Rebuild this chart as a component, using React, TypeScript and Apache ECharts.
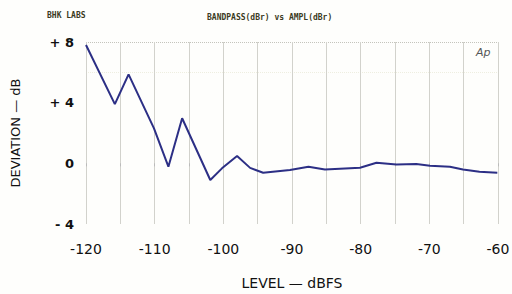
import React, { useEffect, useRef } from "react";
import * as echarts from "echarts";

const levels = [-120, -115.8, -113.8, -110.1, -108.0, -106.0, -101.9, -100.2, -98.0, -96.1, -94.2, -90.3, -87.6, -85.2, -80.1, -77.7, -74.8, -71.9, -69.9, -67.0, -65.1, -62.7, -60.1];
const deviation = [7.8, 3.9, 5.87, 2.3, -0.22, 2.97, -1.1, -0.33, 0.48, -0.3, -0.62, -0.44, -0.22, -0.4, -0.29, 0.04, -0.07, -0.05, -0.16, -0.22, -0.4, -0.55, -0.62];
const yTickLabels: Record<string, string> = { "8": "+ 8", "4": "+ 4", "0": "0", "-4": "- 4" };
const xTickLabels: Record<string, string> = { "-120": "-120", "-110": "-110", "-100": "-100", "-90": "-90", "-80": "-80", "-70": "-70", "-60": "-60" };

export default function App() {
  const ref = useRef<HTMLDivElement>(null);
  useEffect(() => {
    if (!ref.current) return;
    const chart = echarts.init(ref.current, null, { renderer: "svg" });
    const font = "'DejaVu Sans', 'Liberation Sans', sans-serif";
    chart.setOption({
      animation: false,
      backgroundColor: "#fefefc",
      grid: { left: 86, right: 14, top: 42, bottom: 70, outerBoundsMode: "none", containLabel: false },
      xAxis: {
        type: "value",
        min: -120,
        max: -60,
        interval: 5,
        name: "LEVEL — dBFS",
        nameLocation: "middle",
        nameGap: 52,
        nameTextStyle: { fontFamily: font, fontSize: 14, color: "#111" },
        axisLine: { show: false },
        axisTick: { show: true, length: 3, lineStyle: { color: "#bbb" } },
        splitLine: { show: true, lineStyle: { color: "#d2d2cc", width: 1 } },
        axisLabel: {
          fontFamily: font,
          fontSize: 14,
          color: "#111",
          margin: 18,
          formatter: (v: number) => xTickLabels[String(v)] ?? "",
        },
      },
      yAxis: {
        type: "value",
        min: -4,
        max: 8,
        interval: 2,
        name: "DEVIATION — dB",
        nameLocation: "middle",
        nameGap: 56,
        nameRotate: 90,
        nameTextStyle: { fontFamily: font, fontSize: 13, color: "#111", padding: [0, 0, 8, 0] },
        axisLine: { show: false },
        axisTick: { show: false },
        splitLine: {
          show: true,
          lineStyle: {
            color: ["transparent", "transparent", "transparent", "transparent", "transparent", "#eeeee0", "#c4c4bc"],
            type: "dotted",
            width: 1,
          },
        },
        axisLabel: {
          fontFamily: font,
          fontSize: 13,
          fontWeight: "bold",
          color: "#111",
          margin: 12,
          formatter: (v: number) => yTickLabels[String(v)] ?? "",
        },
      },
      graphic: [
        {
          type: "text",
          left: 47,
          top: 11,
          style: { text: "BHK LABS", fontFamily: "'DejaVu Sans Mono', monospace", fontSize: 8, fontWeight: "bold", fill: "#3a3a22" },
        },
        {
          type: "text",
          left: 207,
          top: 13,
          style: { text: "BANDPASS(dBr) vs AMPL(dBr)", fontFamily: "'DejaVu Sans Mono', monospace", fontSize: 8, fontWeight: "bold", fill: "#3a3a22" },
        },
        {
          type: "text",
          left: 476,
          top: 47,
          style: { text: "Ap", fontFamily: font, fontSize: 11, fontStyle: "italic", fill: "#555" },
        },
      ],
      series: [
        {
          type: "line",
          data: levels.map((x, i) => [x, deviation[i]]),
          symbol: "none",
          lineStyle: { color: "#2c2f85", width: 2 },
        },
      ],
    });
    return () => chart.dispose();
  }, []);
  return <div ref={ref} style={{ width: 512, height: 294, position: "absolute", left: 0, top: 0 }} />;
}
